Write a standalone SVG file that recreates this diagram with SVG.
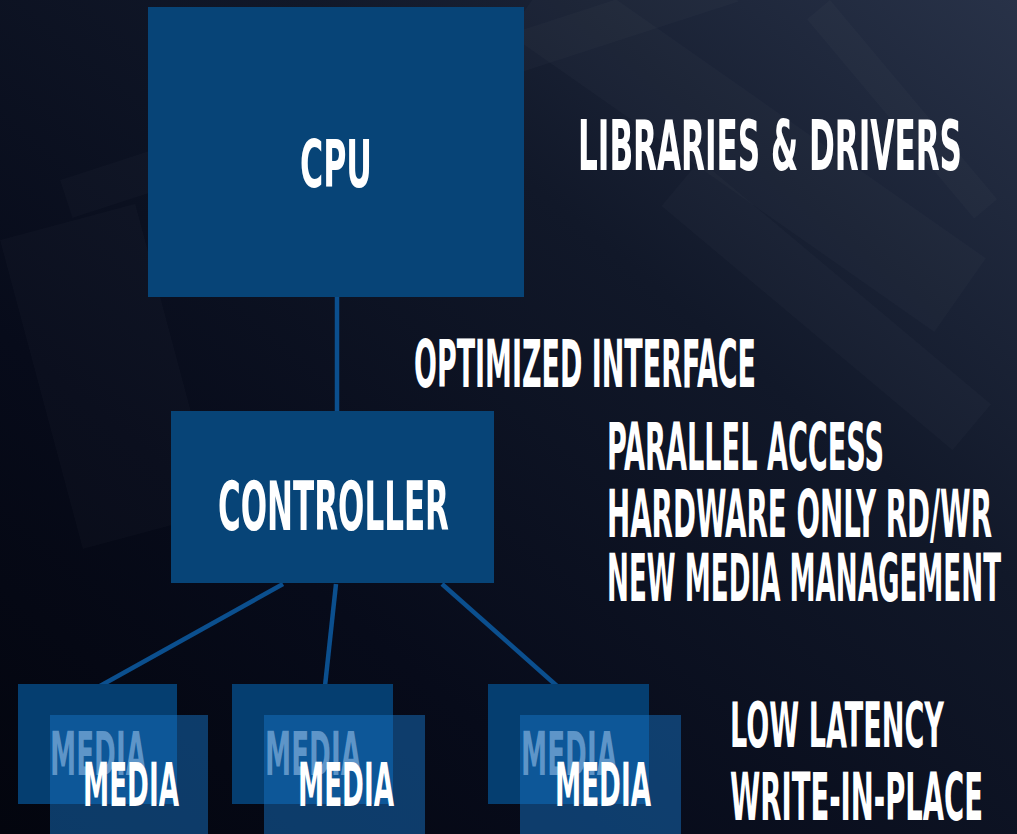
<svg xmlns="http://www.w3.org/2000/svg" width="1017" height="834" viewBox="0 0 1017 834">
<defs>
<linearGradient id="bg" x1="1" y1="0" x2="0" y2="1">
<stop offset="0" stop-color="#283248"/>
<stop offset="0.35" stop-color="#111829"/>
<stop offset="0.7" stop-color="#070b1a"/>
<stop offset="1" stop-color="#03050e"/>
</linearGradient>
<style>
.lbl{font-family:"Liberation Sans Narrow","DejaVu Sans Condensed","Liberation Sans",sans-serif;font-weight:bold;fill:#ffffff}
.ghost{font-family:"Liberation Sans Narrow","DejaVu Sans Condensed","Liberation Sans",sans-serif;font-weight:bold;fill:#7aaad8;fill-opacity:0.75}
.box{fill:#074477}
.mback{fill:#053e70}
.mfront{fill:#1670c0;fill-opacity:0.5}
.conn{stroke:#0b4f8e;stroke-width:4.5;fill:none}
.tex{fill:#ffffff;fill-opacity:0.018}
</style>
</defs>
<rect width="1017" height="834" fill="url(#bg)"/>
<g id="texture">
<rect class="tex" x="560" y="-40" width="520" height="90" transform="rotate(35 560 -40)"/>
<rect class="tex" x="60" y="180" width="700" height="40" transform="rotate(-18 60 180)"/>
<rect class="tex" x="700" y="160" width="380" height="60" transform="rotate(40 700 160)"/>
<rect class="tex" x="830" y="0" width="260" height="30" transform="rotate(50 830 0)"/>
<rect class="tex" x="0" y="240" width="140" height="320" transform="rotate(-15 0 240)"/>
</g>
<g id="connectors">
<line class="conn" x1="337" y1="297" x2="337" y2="412"/>
<line class="conn" x1="283" y1="584" x2="100" y2="686"/>
<line class="conn" x1="336" y1="584" x2="325" y2="686"/>
<line class="conn" x1="442" y1="584" x2="557" y2="686"/>
</g>
<g id="cpu">
<rect class="box" x="148" y="7" width="376" height="290"/>
<text class="lbl" x="300" y="187" font-size="66" textLength="72" lengthAdjust="spacingAndGlyphs">CPU</text>
</g>
<g id="controller">
<rect class="box" x="171" y="411" width="323" height="172"/>
<text class="lbl" x="218" y="530" font-size="68" textLength="231" lengthAdjust="spacingAndGlyphs">CONTROLLER</text>
</g>
<g id="media1">
<rect class="mback" x="18" y="684" width="159" height="120"/>
<rect class="mfront" x="50" y="715" width="158" height="125"/>
<text class="ghost" x="50" y="775" font-size="61" textLength="96" lengthAdjust="spacingAndGlyphs">MEDIA</text>
<text class="lbl" x="83" y="806" font-size="61" textLength="96" lengthAdjust="spacingAndGlyphs">MEDIA</text>
</g>
<g id="media2">
<rect class="mback" x="232" y="684" width="161" height="120"/>
<rect class="mfront" x="264" y="715" width="161" height="125"/>
<text class="ghost" x="265" y="775" font-size="61" textLength="96" lengthAdjust="spacingAndGlyphs">MEDIA</text>
<text class="lbl" x="298" y="806" font-size="61" textLength="96" lengthAdjust="spacingAndGlyphs">MEDIA</text>
</g>
<g id="media3">
<rect class="mback" x="488" y="684" width="161" height="120"/>
<rect class="mfront" x="520" y="715" width="161" height="125"/>
<text class="ghost" x="521" y="775" font-size="61" textLength="96" lengthAdjust="spacingAndGlyphs">MEDIA</text>
<text class="lbl" x="555" y="806" font-size="61" textLength="96" lengthAdjust="spacingAndGlyphs">MEDIA</text>
</g>
<g id="labels">
<text class="lbl" x="578" y="170" font-size="70" textLength="384" lengthAdjust="spacingAndGlyphs">LIBRARIES &amp; DRIVERS</text>
<text class="lbl" x="414" y="387" font-size="65" textLength="342" lengthAdjust="spacingAndGlyphs">OPTIMIZED INTERFACE</text>
<text class="lbl" x="607" y="470" font-size="66" textLength="277" lengthAdjust="spacingAndGlyphs">PARALLEL ACCESS</text>
<text class="lbl" x="607" y="537" font-size="66" textLength="385" lengthAdjust="spacingAndGlyphs">HARDWARE ONLY RD/WR</text>
<text class="lbl" x="607" y="601" font-size="66" textLength="394" lengthAdjust="spacingAndGlyphs">NEW MEDIA MANAGEMENT</text>
<text class="lbl" x="730" y="747" font-size="63" textLength="214" lengthAdjust="spacingAndGlyphs">LOW LATENCY</text>
<text class="lbl" x="730" y="820" font-size="65" textLength="253" lengthAdjust="spacingAndGlyphs">WRITE-IN-PLACE</text>
</g>
</svg>
